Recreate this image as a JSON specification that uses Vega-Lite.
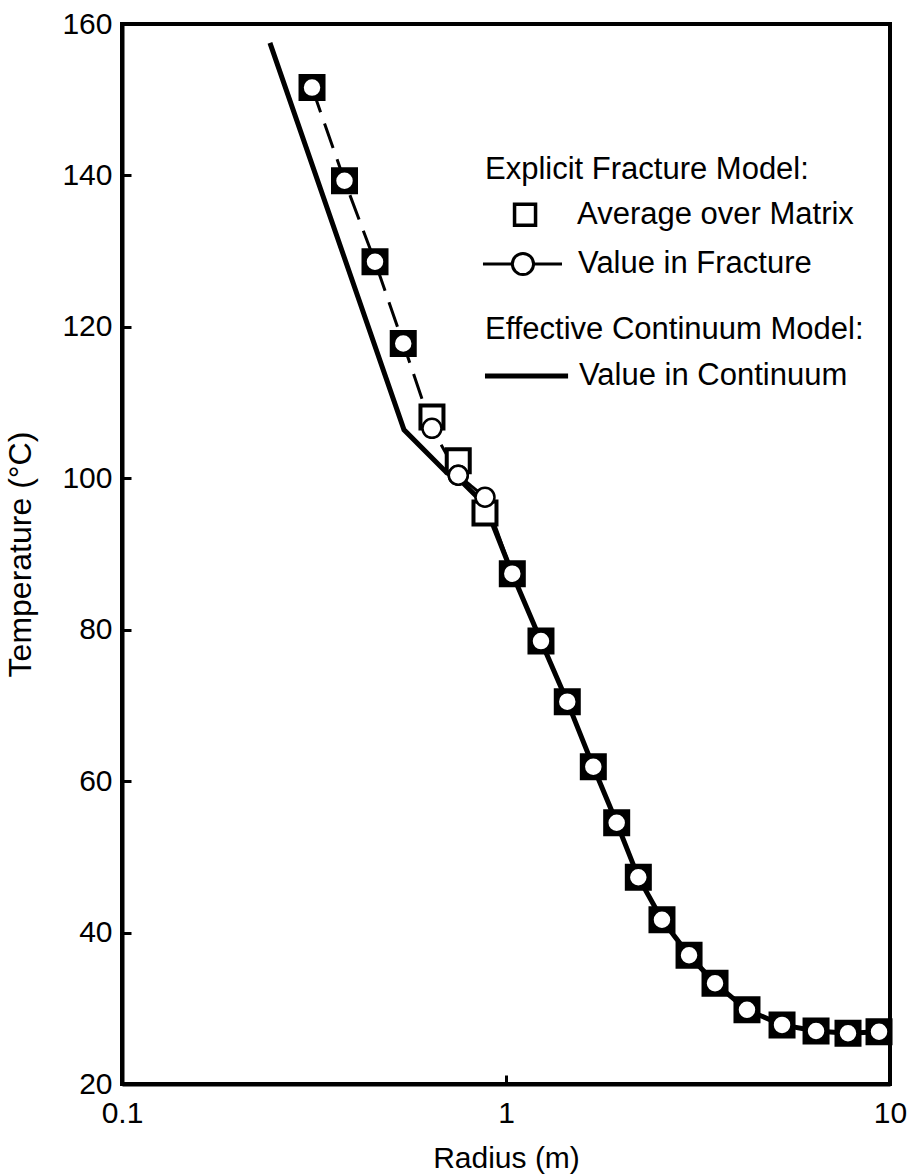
{
  "$schema": "https://vega.github.io/schema/vega-lite/v6.json",
  "width": 768,
  "height": 1060,
  "autosize": {"type": "none"},
  "padding": {"left": 122, "top": 24, "right": 23, "bottom": 91},
  "background": "white",
  "config": {
    "view": {"stroke": "black", "strokeWidth": 4},
    "font": "Liberation Sans",
    "axis": {
      "grid": false,
      "domainColor": "black",
      "domainWidth": 4,
      "tickColor": "black",
      "tickWidth": 3,
      "tickSize": -9,
      "labelColor": "black",
      "labelFont": "Liberation Sans",
      "labelFontSize": 30,
      "titleFont": "Liberation Sans",
      "titleFontSize": 30,
      "titleFontWeight": "normal",
      "titleColor": "black"
    }
  },
  "datasets": {
    "continuum": [
      {"r": 0.2428, "T": 157.5},
      {"r": 0.5425, "T": 106.4},
      {"r": 0.702, "T": 100.7},
      {"r": 0.751, "T": 100.0},
      {"r": 0.8816, "T": 96.5},
      {"r": 1.0385, "T": 87.4},
      {"r": 1.2334, "T": 78.5},
      {"r": 1.444, "T": 70.5},
      {"r": 1.688, "T": 61.9},
      {"r": 1.942, "T": 54.5},
      {"r": 2.211, "T": 47.3},
      {"r": 2.548, "T": 41.7},
      {"r": 2.997, "T": 37.0},
      {"r": 3.502, "T": 33.3},
      {"r": 4.242, "T": 29.8},
      {"r": 5.234, "T": 27.8},
      {"r": 6.418, "T": 27.0},
      {"r": 7.774, "T": 26.7},
      {"r": 9.363, "T": 26.9}
    ],
    "matrix": [
      {"r": 0.3125, "T": 151.6},
      {"r": 0.3797, "T": 139.3},
      {"r": 0.4559, "T": 128.6},
      {"r": 0.540, "T": 117.8},
      {"r": 0.6415, "T": 108.1},
      {"r": 0.751, "T": 102.3},
      {"r": 0.8816, "T": 95.4},
      {"r": 1.0385, "T": 87.4},
      {"r": 1.2334, "T": 78.5},
      {"r": 1.444, "T": 70.5},
      {"r": 1.688, "T": 61.9},
      {"r": 1.942, "T": 54.5},
      {"r": 2.211, "T": 47.3},
      {"r": 2.548, "T": 41.7},
      {"r": 2.997, "T": 37.0},
      {"r": 3.502, "T": 33.3},
      {"r": 4.242, "T": 29.8},
      {"r": 5.234, "T": 27.8},
      {"r": 6.418, "T": 27.0},
      {"r": 7.774, "T": 26.7},
      {"r": 9.363, "T": 26.9}
    ],
    "fracture": [
      {"r": 0.3125, "T": 151.6, "part": "upper"},
      {"r": 0.3797, "T": 139.3, "part": "upper"},
      {"r": 0.4559, "T": 128.6, "part": "upper"},
      {"r": 0.540, "T": 117.8, "part": "upper"},
      {"r": 0.6415, "T": 106.6, "part": "upper"},
      {"r": 0.751, "T": 100.4, "part": "upper"},
      {"r": 0.751, "T": 100.4, "part": "lower"},
      {"r": 0.8816, "T": 97.5, "part": "lower"},
      {"r": 1.0385, "T": 87.4, "part": "lower"},
      {"r": 1.2334, "T": 78.5, "part": "lower"},
      {"r": 1.444, "T": 70.5, "part": "lower"},
      {"r": 1.688, "T": 61.9, "part": "lower"},
      {"r": 1.942, "T": 54.5, "part": "lower"},
      {"r": 2.211, "T": 47.3, "part": "lower"},
      {"r": 2.548, "T": 41.7, "part": "lower"},
      {"r": 2.997, "T": 37.0, "part": "lower"},
      {"r": 3.502, "T": 33.3, "part": "lower"},
      {"r": 4.242, "T": 29.8, "part": "lower"},
      {"r": 5.234, "T": 27.8, "part": "lower"},
      {"r": 6.418, "T": 27.0, "part": "lower"},
      {"r": 7.774, "T": 26.7, "part": "lower"},
      {"r": 9.363, "T": 26.9, "part": "lower"}
    ],
    "legendText": [
      {"r": 0.8816, "T": 140.7, "label": "Explicit Fracture Model:"},
      {"r": 1.531, "T": 134.8, "label": "Average over Matrix"},
      {"r": 1.540, "T": 128.3, "label": "Value in Fracture"},
      {"r": 0.8816, "T": 119.6, "label": "Effective Continuum Model:"},
      {"r": 1.549, "T": 113.5, "label": "Value in Continuum"}
    ],
    "legendLines": [
      {"r": 0.871, "T": 128.3, "id": "fracture"},
      {"r": 1.399, "T": 128.3, "id": "fracture"},
      {"r": 0.8816, "T": 113.5, "id": "continuum"},
      {"r": 1.451, "T": 113.5, "id": "continuum"}
    ],
    "legendSquare": [{"r": 1.121, "T": 134.8}],
    "legendCircle": [{"r": 1.107, "T": 128.3}]
  },
  "encoding": {
    "x": {
      "field": "r",
      "type": "quantitative",
      "scale": {"type": "log", "domain": [0.1, 10]},
      "axis": {
        "title": "Radius (m)",
        "values": [0.1, 1, 10],
        "format": "~g",
        "labelPadding": 23,
        "titlePadding": 15,
        "labelFlush": false
      }
    },
    "y": {
      "field": "T",
      "type": "quantitative",
      "scale": {"domain": [20, 160], "nice": false, "zero": false},
      "axis": {
        "title": "Temperature (°C)",
        "titleFontSize": 32,
        "values": [20, 40, 60, 80, 100, 120, 140, 160],
        "labelPadding": 19,
        "titlePadding": 24,
        "labelFlush": false
      }
    }
  },
  "layer": [
    {
      "data": {"name": "continuum"},
      "mark": {"type": "line", "color": "black", "strokeWidth": 5, "strokeJoin": "miter", "strokeCap": "butt"}
    },
    {
      "data": {"name": "fracture"},
      "mark": {"type": "line", "color": "black", "strokeWidth": 3},
      "encoding": {
        "detail": {"field": "part"},
        "strokeDash": {
          "field": "part",
          "type": "nominal",
          "scale": {"domain": ["upper", "lower"], "range": [[26, 12], [1, 0]]},
          "legend": null
        }
      }
    },
    {
      "data": {"name": "matrix"},
      "mark": {"type": "point", "shape": "square", "filled": false, "stroke": "black", "strokeWidth": 4, "size": 529, "opacity": 1},
      "encoding": {
        "fill": {
          "condition": {"test": "datum.r < 0.6 || datum.r > 0.95", "value": "black"},
          "value": "white"
        }
      }
    },
    {
      "data": {"name": "fracture"},
      "mark": {"type": "point", "shape": "circle", "filled": false, "fill": "white", "stroke": "black", "strokeWidth": 2.5, "size": 360, "opacity": 1}
    },
    {
      "data": {"name": "legendLines"},
      "mark": {"type": "line", "color": "black", "strokeCap": "butt"},
      "encoding": {
        "detail": {"field": "id"},
        "strokeWidth": {
          "field": "id",
          "type": "nominal",
          "scale": {"domain": ["fracture", "continuum"], "range": [3, 5]},
          "legend": null
        }
      }
    },
    {
      "data": {"name": "legendSquare"},
      "mark": {"type": "point", "shape": "square", "filled": false, "fill": "white", "stroke": "black", "strokeWidth": 3.5, "size": 441, "opacity": 1}
    },
    {
      "data": {"name": "legendCircle"},
      "mark": {"type": "point", "shape": "circle", "filled": false, "fill": "white", "stroke": "black", "strokeWidth": 3, "size": 450, "opacity": 1}
    },
    {
      "data": {"name": "legendText"},
      "mark": {"type": "text", "align": "left", "baseline": "middle", "font": "Liberation Sans", "fontSize": 31, "color": "black"},
      "encoding": {"text": {"field": "label"}}
    }
  ]
}
